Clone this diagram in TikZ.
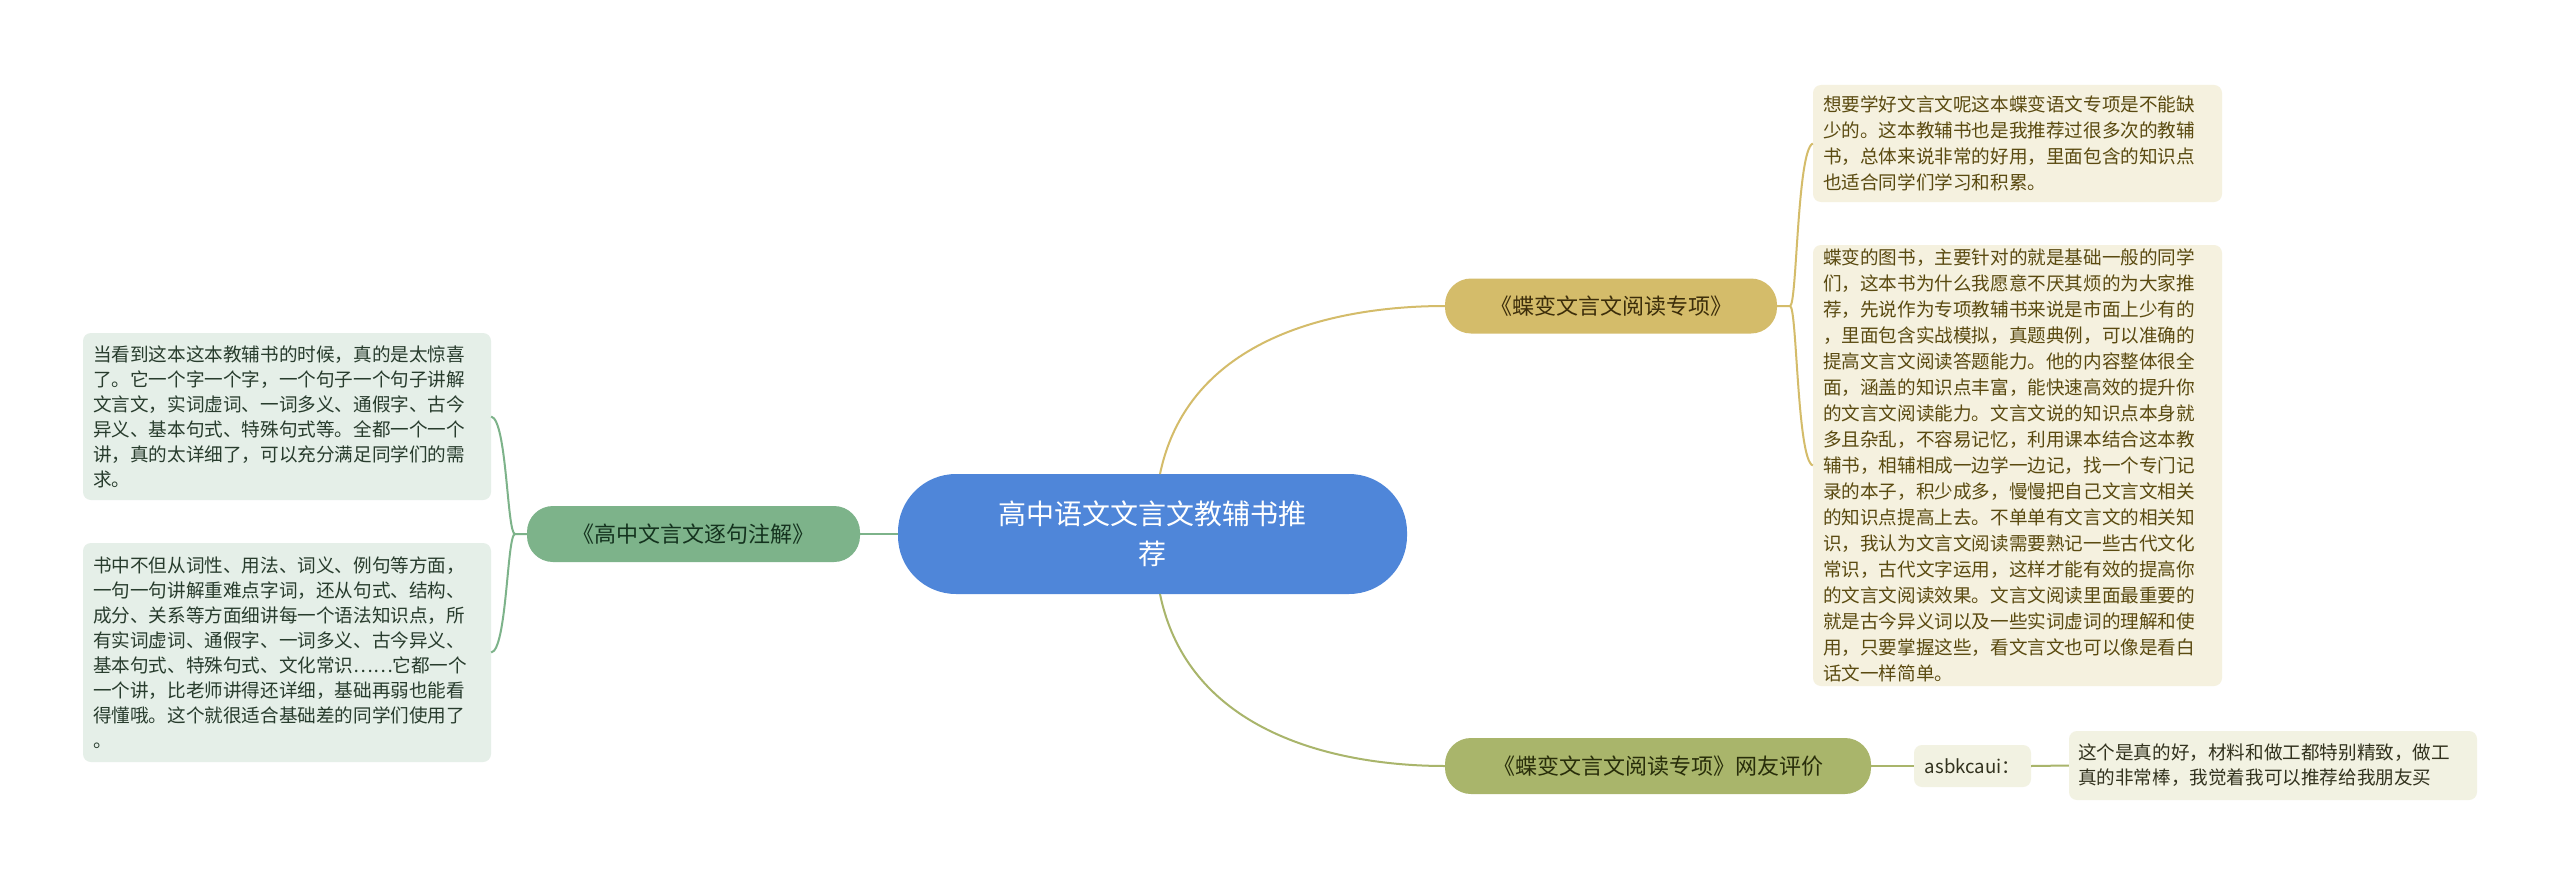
\documentclass[tikz,border=0pt]{standalone}
\usepackage{fontspec}
\setmainfont{Noto Sans CJK SC}
\definecolor{cblue}{RGB}{79,134,217}
\definecolor{cgold}{RGB}{212,188,106}
\definecolor{colive}{RGB}{169,181,107}
\definecolor{cgreen}{RGB}{125,179,138}
\definecolor{lgold}{RGB}{245,241,223}
\definecolor{lgreen}{RGB}{229,239,232}
\definecolor{lolive}{RGB}{242,242,226}
\definecolor{tgold}{RGB}{90,74,16}
\definecolor{tgreen}{RGB}{40,60,45}
\definecolor{tolive}{RGB}{50,50,30}
\begin{document}
\begin{tikzpicture}[x=1pt,y=-1pt,
 leaf/.style={rounded corners=8pt,inner sep=0pt,align=left},
 br/.style={rounded corners=26pt,inner sep=0pt,align=center,font=\fontsize{22}{26}\selectfont}]
\fill[white] (0,0) rectangle (2560,883);
\node[fill=cblue,rounded corners=58pt,minimum width=509pt,minimum height=120pt,inner sep=0pt,text=white,align=center,font=\fontsize{28}{40}\selectfont] (c) at (1152.5,534) {高中语文文言文教辅书推\\荐};
\node[br,fill=cgold,minimum width=332pt,minimum height=55pt,text={rgb,255:red,60;green,45;blue,10}] (b1) at (1611,306) {《蝶变文言文阅读专项》};
\node[br,fill=colive,minimum width=426pt,minimum height=56pt,text={rgb,255:red,40;green,45;blue,10}] (b3) at (1658,766) {《蝶变文言文阅读专项》网友评价};
\node[br,fill=cgreen,minimum width=333pt,minimum height=56pt,text={rgb,255:red,20;green,50;blue,30}] (b2) at (693.5,534) {《高中文言文逐句注解》};
\begin{scope}[font=\fontsize{18.6}{26}\selectfont,text=tgold]
\node[leaf,fill=lgold,minimum width=409pt,minimum height=117pt,text width=389pt] (r1) at (2017.5,143.5) {想要学好文言文呢这本蝶变语文专项是不能缺\\少的。这本教辅书也是我推荐过很多次的教辅\\书，总体来说非常的好用，里面包含的知识点\\也适合同学们学习和积累。};
\node[leaf,fill=lgold,minimum width=409pt,minimum height=441pt,text width=389pt] (r2) at (2017.5,465.5) {蝶变的图书，主要针对的就是基础一般的同学\\们，这本书为什么我愿意不厌其烦的为大家推\\荐，先说作为专项教辅书来说是市面上少有的\\，里面包含实战模拟，真题典例，可以准确的\\提高文言文阅读答题能力。他的内容整体很全\\面，涵盖的知识点丰富，能快速高效的提升你\\的文言文阅读能力。文言文说的知识点本身就\\多且杂乱，不容易记忆，利用课本结合这本教\\辅书，相辅相成一边学一边记，找一个专门记\\录的本子，积少成多，慢慢把自己文言文相关\\的知识点提高上去。不单单有文言文的相关知\\识，我认为文言文阅读需要熟记一些古代文化\\常识，古代文字运用，这样才能有效的提高你\\的文言文阅读效果。文言文阅读里面最重要的\\就是古今异义词以及一些实词虚词的理解和使\\用，只要掌握这些，看文言文也可以像是看白\\话文一样简单。};
\end{scope}
\begin{scope}[font=\fontsize{18.6}{25}\selectfont,text=tgreen]
\node[leaf,fill=lgreen,minimum width=408pt,minimum height=167pt,text width=388pt] (l1) at (287,416.5) {当看到这本这本教辅书的时候，真的是太惊喜\\了。它一个字一个字，一个句子一个句子讲解\\文言文，实词虚词、一词多义、通假字、古今\\异义、基本句式、特殊句式等。全都一个一个\\讲，真的太详细了，可以充分满足同学们的需\\求。};
\node[leaf,fill=lgreen,minimum width=408pt,minimum height=219pt,text width=388pt] (l2) at (287,652.5) {书中不但从词性、用法、词义、例句等方面，\\一句一句讲解重难点字词，还从句式、结构、\\成分、关系等方面细讲每一个语法知识点，所\\有实词虚词、通假字、一词多义、古今异义、\\基本句式、特殊句式、文化常识……它都一个\\一个讲，比老师讲得还详细，基础再弱也能看\\得懂哦。这个就很适合基础差的同学们使用了\\。};
\end{scope}
\node[leaf,fill=lolive,minimum width=117pt,minimum height=42pt,align=center,font=\fontsize{18.6}{22}\selectfont,text=tolive] (a) at (1972.5,766) {asbkcaui：};
\node[leaf,fill=lolive,minimum width=408pt,minimum height=69pt,text width=390pt,font=\fontsize{18.6}{25}\selectfont,text=tolive] (a2) at (2273,765.5) {这个是真的好，材料和做工都特别精致，做工\\真的非常棒，我觉着我可以推荐给我朋友买};
\begin{scope}[line width=2pt]
\draw[cgold] (1160,474) .. controls (1190,330) and (1350,306) .. (b1.west);
\draw[colive] (1160,594) .. controls (1190,740) and (1350,766) .. (b3.west);
\draw[cgreen] (c.west) -- (b2.east);
\draw[cgold] (b1.east) -- (1790,306) .. controls (1797,306) and (1797,150) .. (r1.west);
\draw[cgold] (1790,306) .. controls (1797,306) and (1797,460) .. (r2.west);
\draw[cgreen] (b2.west) -- (515,534) .. controls (507,534) and (507,420) .. (l1.east);
\draw[cgreen] (515,534) .. controls (507,534) and (507,650) .. (l2.east);
\draw[colive] (b3.east) -- (a.west);
\draw[colive] (a.east) -- (a2.west);
\end{scope}
\end{tikzpicture}
\end{document}
